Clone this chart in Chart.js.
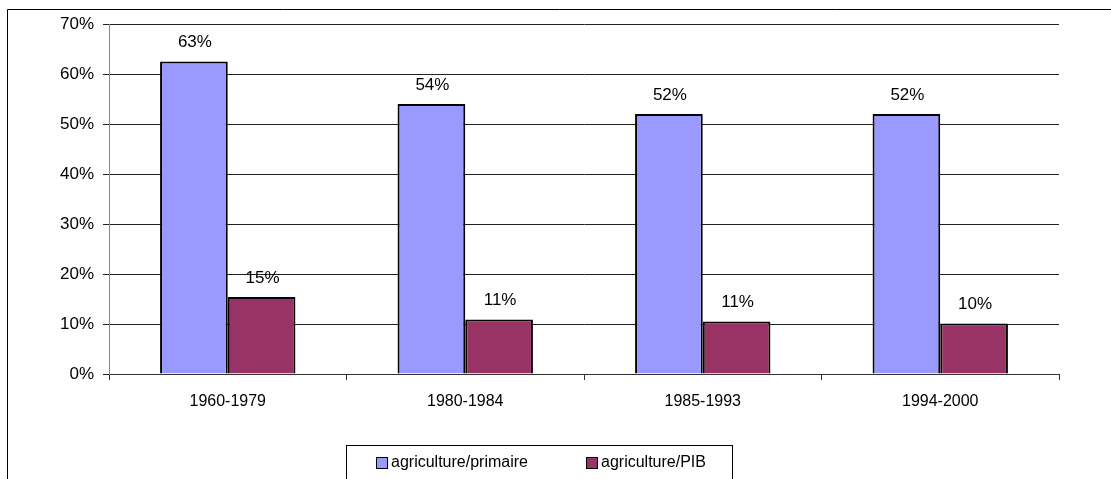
<!DOCTYPE html>
<html>
<head>
<meta charset="utf-8">
<script src="https://cdn.jsdelivr.net/npm/chart.js@4/dist/chart.umd.min.js"></script>
<style>
  html, body { margin: 0; padding: 0; background: #fff; }
  #wrap { width: 1111px; height: 479px; }
</style>
</head>
<body>
<div id="wrap"><canvas id="chart" width="1111" height="479"></canvas></div>
<script>
// Periods and the agricultural shares (in %) for each
const categories = ['1960-1979', '1980-1984', '1985-1993', '1994-2000'];
const primaireShare = [62.5, 54, 52, 52];
const pibShare = [15.4, 10.9, 10.5, 10.1];
const seriesNames = ['agriculture/primaire', 'agriculture/PIB'];
const yTicks = [0, 10, 20, 30, 40, 50, 60, 70];

const FONT = '"Liberation Sans", Arial, sans-serif';
const fmtPct = v => Math.round(v) + '%';

// Outer frame of the chart object
const framePlugin = {
  id: 'frame',
  beforeDraw(chart) {
    const ctx = chart.ctx;
    ctx.save();
    ctx.strokeStyle = '#000';
    ctx.lineWidth = 1;
    ctx.beginPath();
    ctx.moveTo(7.5, chart.height + 2);
    ctx.lineTo(7.5, 9.5);
    ctx.lineTo(chart.width + 2, 9.5);
    ctx.stroke();
    ctx.restore();
  }
};

// Value labels above each bar
const valueLabels = {
  id: 'valueLabels',
  afterDatasetsDraw(chart) {
    const ctx = chart.ctx;
    ctx.save();
    ctx.font = '17px ' + FONT;
    ctx.fillStyle = '#000';
    ctx.textAlign = 'center';
    ctx.textBaseline = 'middle';
    chart.data.datasets.forEach((ds, i) => {
      chart.getDatasetMeta(i).data.forEach((bar, j) => {
        ctx.fillText(fmtPct(ds.data[j]), bar.x + 1, bar.y - 19);
      });
    });
    ctx.restore();
  }
};

// Boxed legend under the plot
const boxLegend = {
  id: 'boxLegend',
  afterDraw(chart) {
    const ctx = chart.ctx;
    const box = { x: 346.5, y: 445.5, w: 386, h: 60 };
    const itemX = [376, 586];
    const cy = 463;
    ctx.save();
    ctx.strokeStyle = '#000';
    ctx.lineWidth = 1;
    ctx.strokeRect(box.x, box.y, box.w, box.h);
    ctx.font = '16px ' + FONT;
    ctx.textAlign = 'left';
    ctx.textBaseline = 'middle';
    chart.data.datasets.forEach((ds, i) => {
      const x = itemX[i];
      ctx.fillStyle = ds.backgroundColor;
      ctx.fillRect(x, cy - 6, 12, 12);
      ctx.strokeRect(x + 0.5, cy - 5.5, 11, 11);
      ctx.fillStyle = '#000';
      ctx.fillText(ds.label, x + 15, cy);
    });
    ctx.restore();
  }
};

new Chart(document.getElementById('chart'), {
  type: 'bar',
  data: {
    labels: categories,
    datasets: [
      {
        label: seriesNames[0],
        data: primaireShare,
        backgroundColor: '#9999FF',
        borderColor: '#000',
        borderWidth: 2,
        categoryPercentage: 0.57,
        barPercentage: 1.0
      },
      {
        label: seriesNames[1],
        data: pibShare,
        backgroundColor: '#993366',
        borderColor: '#000',
        borderWidth: 2,
        categoryPercentage: 0.57,
        barPercentage: 1.0
      }
    ]
  },
  options: {
    responsive: false,
    animation: false,
    devicePixelRatio: 1,
    layout: { padding: { top: 24, right: 52, bottom: 0, left: 0 } },
    plugins: {
      legend: { display: false },
      tooltip: { enabled: false }
    },
    scales: {
      x: {
        grid: {
          offset: true,
          drawOnChartArea: false,
          drawTicks: true,
          tickLength: 6,
          color: '#333'
        },
        border: { display: true, color: '#333', width: 1 },
        ticks: {
          color: '#000',
          font: { family: FONT, size: 16 },
          padding: 12,
          maxRotation: 0
        },
        afterFit(scale) { scale.height = 105; }
      },
      y: {
        min: 0,
        max: 70,
        afterBuildTicks(scale) { scale.ticks = yTicks.map(v => ({ value: v })); },
        grid: {
          color: '#222',
          lineWidth: 1,
          drawTicks: true,
          tickLength: 6
        },
        border: { display: true, color: '#888', width: 1 },
        ticks: {
          color: '#000',
          font: { family: FONT, size: 17 },
          padding: 9,
          callback: v => v + '%'
        },
        afterFit(scale) { scale.width = 109; }
      }
    }
  },
  plugins: [framePlugin, valueLabels, boxLegend]
});
</script>
</body>
</html>
